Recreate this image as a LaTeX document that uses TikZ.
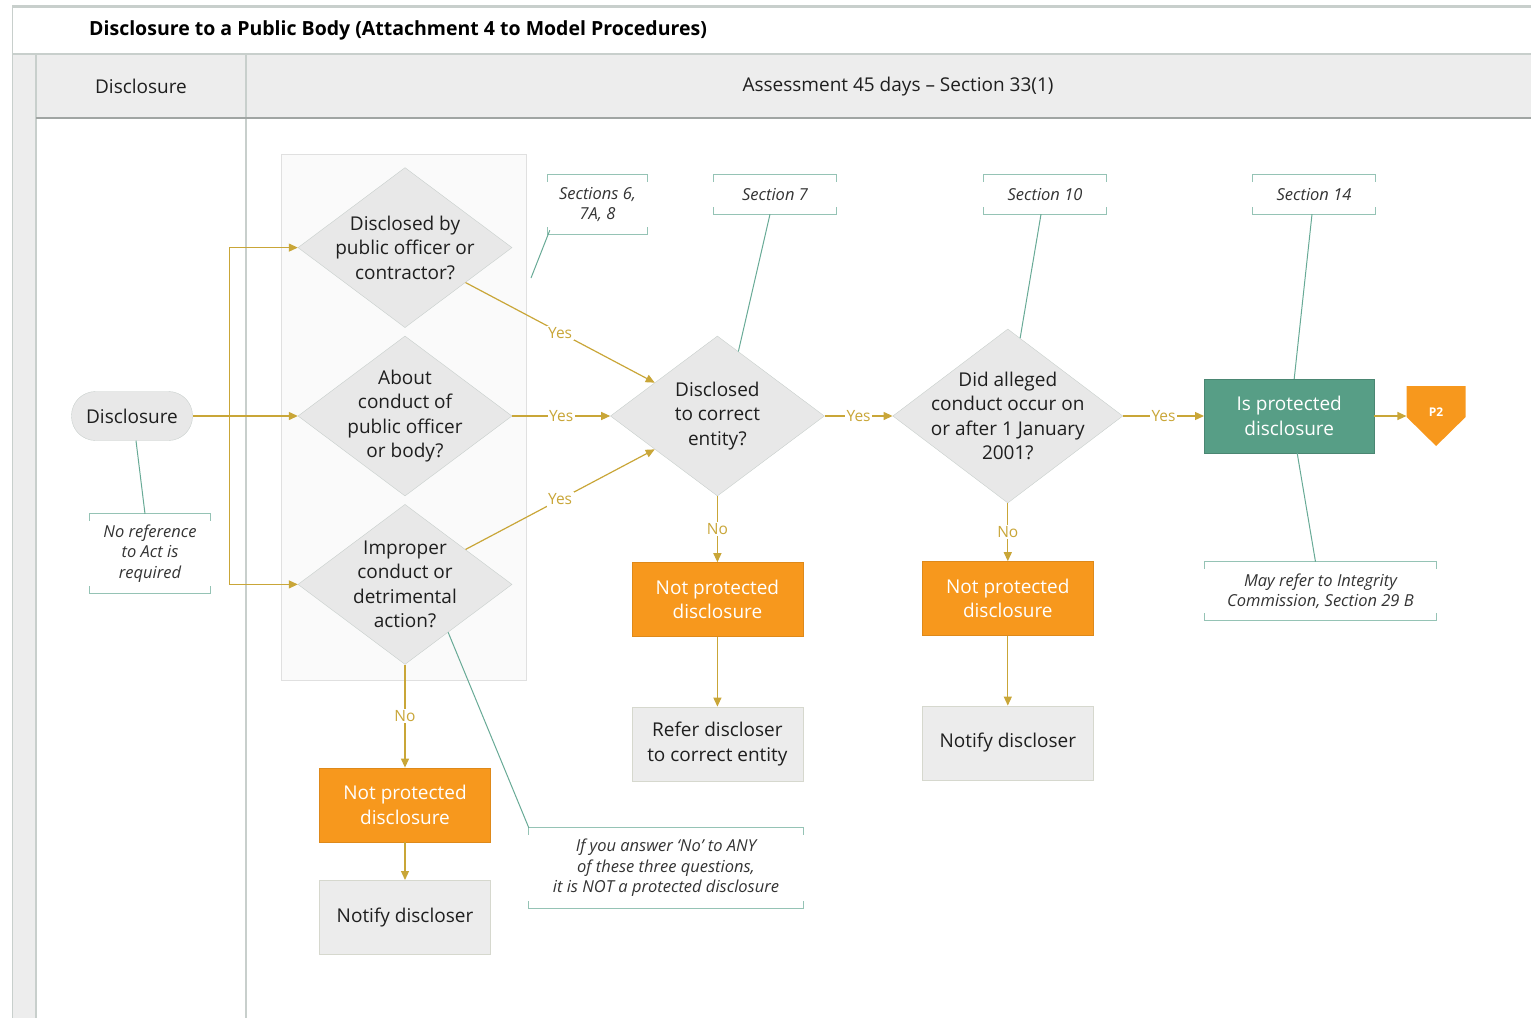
\documentclass[tikz,border=0pt]{standalone}
\usepackage{fontspec}
\setmainfont{Open Sans}
\usetikzlibrary{arrows.meta,positioning,shapes.geometric}

\definecolor{flowline}{RGB}{201,166,56}
\definecolor{noteline}{RGB}{104,170,150}
\definecolor{npfill}{RGB}{247,152,29}
\definecolor{protfill}{RGB}{87,158,134}
\definecolor{qfill}{RGB}{232,232,232}
\definecolor{qline}{RGB}{200,207,204}
\definecolor{boxfill}{RGB}{236,236,236}
\definecolor{boxline}{RGB}{214,216,206}
\definecolor{laneline}{RGB}{200,207,204}
\definecolor{lanefill}{RGB}{237,237,237}

\newcommand\boxtext{\fontsize{19}{24.5}\selectfont}
\newcommand\notetext{\fontsize{16.5}{20.5}\selectfont\itshape}
\newcommand\labeltext{\fontsize{15.5}{18}\selectfont}
\newcommand\titletext{\fontsize{19.5}{23}\selectfont\bfseries}

\tikzset{
    %Define standard arrow tip
    >={Triangle[length=9pt,width=8pt]},
    %Define style for questions
    question/.style={
      diamond, aspect=1.33,
      draw=qline, fill=qfill,
      minimum width=214pt, minimum height=160pt,
      inner sep=-14pt, align=center,
      font=\boxtext, text=black!88},
    %Define style for boxes
    actbox/.style={
      rectangle,
      draw=boxline, fill=boxfill,
      minimum width=171pt, minimum height=74pt,
      inner sep=0pt, align=center,
      font=\boxtext, text=black!88},
    npbox/.style={
      actbox, draw=npfill!90!black, fill=npfill, text=white},
    protbox/.style={
      actbox, draw=protfill!85!black, fill=protfill, text=white,
      minimum width=170pt},
    startbox/.style={
      rectangle, rounded corners=24pt,
      draw=qline, fill=qfill,
      minimum width=121pt, minimum height=49pt,
      font=\boxtext, text=black!88},
    offpage/.style={
      minimum width=59pt, minimum height=60pt, inner sep=0pt,
      text=white, font=\fontsize{12}{14}\selectfont\bfseries,
      path picture={
        \fill[npfill] (path picture bounding box.north west)
          -- (path picture bounding box.north east)
          -- ([yshift=29pt]path picture bounding box.south east)
          -- (path picture bounding box.south)
          -- ([yshift=29pt]path picture bounding box.south west) -- cycle;}},
    %Define style for notes
    note/.style={
      rectangle, inner sep=0pt, align=center,
      font=\notetext, text=black!80},
    bracket/.style={draw=noteline!70, line width=1.2pt},
    % Define arrow styles
    flow/.style={
      ->,
      draw=flowline,
      line width=1.2pt},
    flowlabel/.style={
      fill=white, text=flowline,
      font=\labeltext, inner sep=1.5pt},
    link/.style={
      draw=noteline,
      line width=1pt}
}

\begin{document}
\begin{tikzpicture}[x=1pt, y=-1pt]
    \useasboundingbox (0,0) rectangle (1531,1018);

    % swimlanes
    \fill[lanefill] (12,54) rectangle (36,1018);
    \fill[lanefill] (36,55) rectangle (1531,118);
    \draw[laneline, line width=3pt] (12,6) -- (1531,6);
    \draw[laneline, line width=2.5pt] (12,54) -- (1531,54);
    \draw[laneline, line width=1pt] (12,5) -- (12,1018);
    \draw[laneline, line width=1.5pt] (36,54) -- (36,1018);
    \draw[laneline, line width=1.5pt] (246,54) -- (246,1018);
    \draw[laneline!80!black, line width=2pt] (36,118) -- (1531,118);

    \node[anchor=west, inner sep=0pt, font=\titletext] (title) at (89,30)
      {Disclosure to a Public Body (Attachment 4 to Model Procedures)};
    \node[font=\boxtext, text=black!88] (lane1) at (141,86) {Disclosure};
    \node[font=\boxtext, text=black!88] (lane2) at (898,87)
      {Assessment 45 days -- Section 33(1)};

    % container of the three questions
    \draw[draw=black!12, fill=black!2] (281,154) rectangle (526,680);

    \node[startbox] (start) at (132,416) {Disclosure};

    \node[question] (q2) at (405,416) {About\\conduct of\\public officer\\or body?};
    \node[question, above=8pt of q2] (q1) {Disclosed by\\public officer or\\contractor?};
    \node[question, below=8pt of q2] (q3) {Improper\\conduct or\\detrimental\\action?};

    \node[question, right=98pt of q2] (entity) {Disclosed\\to correct\\entity?};
    \node[question, minimum width=230pt, minimum height=174pt,
      right=68pt of entity] (date) {Did alleged\\conduct occur on\\or after 1 January\\2001?};
    \node[protbox, right=81pt of date] (prot) {Is protected\\disclosure};
    \node[offpage, right=32pt of prot] (p2) {\raisebox{7pt}{P2}};

    \node[npbox, below=66pt of entity] (np1) {Not protected\\disclosure};
    \node[actbox, below=70pt of np1] (refer) {Refer discloser\\to correct entity};
    \node[npbox, below=58pt of date] (np2) {Not protected\\disclosure};
    \node[actbox, below=70pt of np2] (notify2) {Notify discloser};
    \node[npbox, below=103pt of q3] (np3) {Not protected\\disclosure};
    \node[actbox, below=38pt of np3] (notify3) {Notify discloser};

    % notes
    \node[note, minimum width=120pt, minimum height=79pt] (noref) at (150,553.5)
      {No reference\\to Act is\\required};
    \node[note, minimum width=99pt, minimum height=59pt] (sec678) at (597.5,204.5)
      {Sections 6,\\7A, 8};
    \node[note, minimum width=122pt, minimum height=39pt] (sec7) at (775,194.5) {Section 7};
    \node[note, minimum width=122pt, minimum height=39pt] (sec10) at (1045,194.5) {Section 10};
    \node[note, minimum width=122pt, minimum height=39pt] (sec14) at (1314,194.5) {Section 14};
    \node[note, minimum width=231pt, minimum height=58pt] (mayref) at (1320.5,591)
      {May refer to Integrity\\Commission, Section 29 B};
    \node[note, minimum width=274pt, minimum height=80pt] (ifno) at (666,868)
      {If you answer `No' to ANY\\of these three questions,\\it is NOT a protected disclosure};

    \foreach \n in {noref,sec678,sec7,sec10,sec14,mayref,ifno}{
      \draw[bracket] ([yshift=-7pt]\n.north west) -- (\n.north west)
        -- (\n.north east) -- ([yshift=-7pt]\n.north east);
      \draw[bracket] ([yshift=7pt]\n.south west) -- (\n.south west)
        -- (\n.south east) -- ([yshift=7pt]\n.south east);
    }

    % note links
    \coordinate (sec678tip) at (531,278);
    \draw[link] ([xshift=-5pt]noref.north) -- ([xshift=4pt]start.south);
    \draw[link] ([xshift=2pt,yshift=4pt]sec678.south west) -- (sec678tip);
    \draw[link] ([xshift=-5pt]sec7.south) -- (entity.72);
    \draw[link] ([xshift=-4pt]sec10.south) -- (date.81);
    \draw[link] ([xshift=-2pt]sec14.south) -- ([xshift=5pt]prot.north);
    \draw[link] ([xshift=-5pt]mayref.north) -- ([xshift=8pt]prot.south);
    \draw[link] (ifno.north west) -- (q3.-48);

    % flow
    \draw[flow] (start) -- (q2);
    \coordinate[right=37pt of start.east] (split);
    \draw[flow] (split) |- (q1);
    \draw[flow] (split) |- (q3);
    \draw[flow] (q1.-30) -- node[flowlabel] {Yes} (entity.152);
    \draw[flow] (q2) -- node[flowlabel] {Yes} (entity);
    \draw[flow] (q3.30) -- node[flowlabel] {Yes} (entity.208);
    \draw[flow] (entity) -- node[flowlabel] {Yes} (date);
    \draw[flow] (date) -- node[flowlabel] {Yes} (prot);
    \draw[flow] (prot) -- (p2);

    \draw[flow] (entity) -- node[flowlabel] {No} (np1);
    \draw[flow] (np1) -- (refer);
    \draw[flow] (date) -- node[flowlabel] {No} (np2);
    \draw[flow] (np2) -- (notify2);
    \draw[flow] (q3) -- node[flowlabel] {No} (np3);
    \draw[flow] (np3) -- (notify3);
\end{tikzpicture}
\end{document}
